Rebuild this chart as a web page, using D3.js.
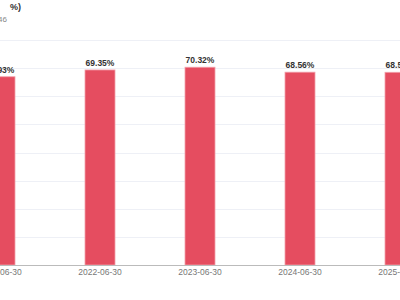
<!DOCTYPE html>
<html>
<head>
<meta charset="utf-8">
<script src="https://cdn.jsdelivr.net/npm/d3@7"></script>
<style>
  html, body { margin: 0; padding: 0; background: #fff; }
  svg { display: block; font-family: "Liberation Sans", Arial, "Noto Sans CJK SC", sans-serif; }
</style>
</head>
<body>
<div id="chart"></div>
<script>
const dates = ['2021-06-30', '2022-06-30', '2023-06-30', '2024-06-30', '2025-06-30'];
const values = [66.93, 69.35, 70.32, 68.56, 68.52];
const yTicks = [0, 10, 20, 30, 40, 50, 60, 70, 80];
const titleText = '资产负债率      %)';
const subtitleText = '000046';

const width = 400;
const height = 300;

const svg = d3.select('#chart').append('svg')
  .attr('width', width)
  .attr('height', height);

const x = d3.scaleBand()
  .domain(dates)
  .range([-50, 450])
  .paddingInner(0.7)
  .paddingOuter(0.35);

const y = d3.scaleLinear()
  .domain([0, 80])
  .range([265, 40]);

// grid
svg.append('g')
  .selectAll('line')
  .data(yTicks.slice(1))
  .join('line')
  .attr('x1', 0)
  .attr('x2', width)
  .attr('y1', d => Math.round(y(d)) + 0.5)
  .attr('y2', d => Math.round(y(d)) + 0.5)
  .attr('stroke', '#eef0f6')
  .attr('stroke-width', 1);

// bars
svg.append('g')
  .selectAll('rect')
  .data(values)
  .join('rect')
  .attr('x', (d, i) => x(dates[i]))
  .attr('width', x.bandwidth())
  .attr('y', d => y(d))
  .attr('height', d => y(0) - y(d))
  .attr('fill', '#e54d60')
  .attr('stroke', '#f2a0aa')
  .attr('stroke-width', 0.8);

// value labels
svg.append('g')
  .selectAll('text')
  .data(values)
  .join('text')
  .attr('x', (d, i) => x(dates[i]) + x.bandwidth() / 2)
  .attr('y', d => y(d) - 4)
  .attr('text-anchor', 'middle')
  .attr('font-size', 8.5)
  .attr('font-weight', 'bold')
  .attr('fill', '#333')
  .text(d => d.toFixed(2) + '%');

// x axis
const xAxis = svg.append('g')
  .attr('transform', `translate(0,${y(0)})`)
  .call(d3.axisBottom(x).tickSize(0).tickPadding(4));
xAxis.select('.domain').attr('stroke', '#bbb').attr('d', `M0,0.5H${width}`);
xAxis.selectAll('text')
  .attr('fill', '#777')
  .attr('font-size', 8.5)
  .attr('font-family', '"Liberation Sans", Arial, sans-serif');

// title (cut off at the left edge, as in the reference)
svg.append('text')
  .attr('x', 21)
  .attr('y', 10)
  .attr('text-anchor', 'end')
  .attr('font-size', 9)
  .attr('font-weight', 'bold')
  .attr('fill', '#333')
  .style('white-space', 'pre')
  .text(titleText);

svg.append('text')
  .attr('x', 7)
  .attr('y', 22)
  .attr('text-anchor', 'end')
  .attr('font-size', 8)
  .attr('fill', '#888')
  .text(subtitleText);
</script>
</body>
</html>
